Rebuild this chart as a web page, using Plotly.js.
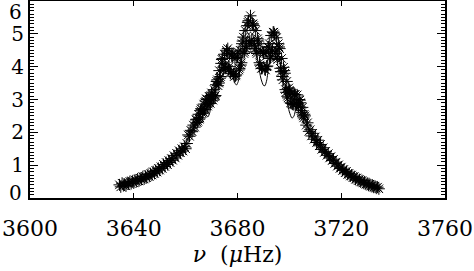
<!DOCTYPE html>
<html>
<head>
<meta charset="utf-8">
<script src="https://cdn.plot.ly/plotly-3.0.1.min.js"></script>
<style>
  body { margin: 0; background: #fff; }
  #plot { width: 474px; height: 271px; }
</style>
</head>
<body>
<div id="plot"></div>
<script>
// observed power spectrum (crosses)
const freq = [
  3634.5, 3635.0, 3635.5, 3636.0, 3636.5, 3637.0, 3637.5, 3638.0, 3638.5, 3639.0,
  3639.5, 3640.0, 3640.5, 3641.0, 3641.5, 3642.0, 3642.5, 3643.0, 3643.5, 3644.0,
  3644.5, 3645.0, 3645.5, 3646.0, 3646.5, 3647.0, 3647.5, 3648.0, 3648.5, 3649.0,
  3649.5, 3650.0, 3650.5, 3651.0, 3651.5, 3652.0, 3652.5, 3653.0, 3653.5, 3654.0,
  3654.5, 3655.0, 3655.5, 3656.0, 3656.5, 3657.0, 3657.5, 3658.0, 3658.5, 3659.0,
  3659.5, 3660.0, 3660.5, 3661.0, 3661.5, 3662.0, 3662.5, 3663.0, 3663.5, 3664.0,
  3664.5, 3665.0, 3665.5, 3666.0, 3666.5, 3667.0, 3667.5, 3668.0, 3668.5, 3669.0,
  3669.5, 3670.0, 3670.5, 3671.0, 3671.5, 3672.0, 3672.5, 3673.0, 3673.5, 3674.0,
  3674.5, 3675.0, 3675.5, 3676.0, 3676.5, 3677.0, 3677.5, 3678.0, 3678.5, 3679.0,
  3679.5, 3680.0, 3680.5, 3681.0, 3681.5, 3682.0, 3682.5, 3683.0, 3683.5, 3684.0,
  3684.5, 3685.0, 3685.5, 3686.0, 3686.5, 3687.0, 3687.5, 3688.0, 3688.5, 3689.0,
  3689.5, 3690.0, 3690.5, 3691.0, 3691.5, 3692.0, 3692.5, 3693.0, 3693.5, 3694.0,
  3694.5, 3695.0, 3695.5, 3696.0, 3696.5, 3697.0, 3697.5, 3698.0, 3698.5, 3699.0,
  3699.5, 3700.0, 3700.5, 3701.0, 3701.5, 3702.0, 3702.5, 3703.0, 3703.5, 3704.0,
  3704.5, 3705.0, 3705.5, 3706.0, 3706.5, 3707.0, 3707.5, 3708.0, 3708.5, 3709.0,
  3709.5, 3710.0, 3710.5, 3711.0, 3711.5, 3712.0, 3712.5, 3713.0, 3713.5, 3714.0,
  3714.5, 3715.0, 3715.5, 3716.0, 3716.5, 3717.0, 3717.5, 3718.0, 3718.5, 3719.0,
  3719.5, 3720.0, 3720.5, 3721.0, 3721.5, 3722.0, 3722.5, 3723.0, 3723.5, 3724.0,
  3724.5, 3725.0, 3725.5, 3726.0, 3726.5, 3727.0, 3727.5, 3728.0, 3728.5, 3729.0,
  3729.5, 3730.0, 3730.5, 3731.0, 3731.5, 3732.0, 3732.5, 3733.0, 3733.5, 3734.0,
  3734.5
];
const power = [
  0.40, 0.34, 0.45, 0.38, 0.42, 0.37, 0.47, 0.43, 0.50, 0.44,
  0.51, 0.46, 0.55, 0.50, 0.58, 0.52, 0.60, 0.57, 0.65, 0.58,
  0.66, 0.62, 0.72, 0.66, 0.74, 0.70, 0.80, 0.75, 0.84, 0.79,
  0.90, 0.85, 0.95, 0.90, 1.02, 0.96, 1.08, 1.02, 1.14, 1.08,
  1.20, 1.15, 1.29, 1.22, 1.36, 1.30, 1.44, 1.38, 1.50, 1.43,
  1.56, 1.50, 1.66, 1.92, 1.88, 2.06, 2.02, 2.22, 2.16, 2.38,
  2.30, 2.55, 2.44, 2.72, 2.58, 2.86, 2.70, 3.02, 2.80, 3.10,
  2.88, 3.20, 2.98, 3.30, 3.12, 3.55, 3.42, 3.88, 3.70, 4.22,
  3.90, 4.38, 3.95, 4.45, 3.92, 4.40, 3.85, 4.30, 3.78, 4.25,
  3.75, 4.32, 3.90, 4.50, 4.12, 4.78, 4.40, 5.10, 4.62, 5.35,
  4.75, 5.55, 4.80, 5.30, 4.65, 5.10, 4.40, 4.78, 4.12, 4.50,
  3.95, 4.40, 3.92, 4.45, 4.02, 4.60, 4.25, 4.95, 4.50, 5.05,
  4.45, 4.88, 4.22, 4.60, 3.95, 4.25, 3.60, 3.88, 3.30, 3.55,
  3.05, 3.28, 2.90, 3.18, 2.85, 3.15, 2.88, 3.14, 2.80, 2.98,
  2.66, 2.76, 2.44, 2.50, 2.22, 2.29, 2.03, 2.08, 1.89, 1.97,
  1.79, 1.86, 1.69, 1.76, 1.59, 1.63, 1.48, 1.53, 1.39, 1.42,
  1.30, 1.35, 1.22, 1.26, 1.14, 1.18, 1.05, 1.09, 0.97, 1.01,
  0.90, 0.94, 0.84, 0.87, 0.77, 0.81, 0.72, 0.75, 0.67, 0.70,
  0.62, 0.65, 0.57, 0.61, 0.53, 0.56, 0.49, 0.53, 0.46, 0.49,
  0.42, 0.45, 0.39, 0.42, 0.36, 0.39, 0.33, 0.36, 0.30, 0.33,
  0.28
];

// extra in-between bins near the peak, where the spectrum is densest
const freqMid = [
  3664.25, 3664.75, 3665.25, 3665.75, 3666.25, 3666.75, 3667.25, 3667.75, 3668.25, 3668.75,
  3669.25, 3669.75, 3670.25, 3670.75, 3671.25, 3671.75, 3672.25, 3672.75, 3673.25, 3673.75,
  3674.25, 3674.75, 3675.25, 3675.75, 3676.25, 3676.75, 3677.25, 3677.75, 3678.25, 3678.75,
  3679.25, 3679.75, 3680.25, 3680.75, 3681.25, 3681.75, 3682.25, 3682.75, 3683.25, 3683.75,
  3684.25, 3684.75, 3685.25, 3685.75, 3686.25, 3686.75, 3687.25, 3687.75, 3688.25, 3688.75,
  3689.25, 3689.75, 3690.25, 3690.75, 3691.25, 3691.75, 3692.25, 3692.75, 3693.25, 3693.75,
  3694.25, 3694.75, 3695.25, 3695.75, 3696.25, 3696.75, 3697.25, 3697.75, 3698.25, 3698.75,
  3699.25, 3699.75, 3700.25, 3700.75, 3701.25, 3701.75, 3702.25, 3702.75, 3703.25, 3703.75,
  3704.25, 3704.75, 3705.25, 3705.75
];
const powerMid = [
  2.40, 2.34, 2.40, 2.66, 2.70, 2.62, 2.68, 2.95, 3.00, 2.86,
  2.90, 3.12, 3.15, 3.05, 3.10, 3.45, 3.60, 3.50, 3.65, 4.10,
  4.25, 3.98, 4.05, 4.50, 4.55, 4.00, 3.80, 4.35, 4.40, 3.70,
  3.72, 4.28, 4.45, 3.95, 4.05, 4.70, 4.90, 4.45, 4.55, 5.25,
  5.40, 4.78, 4.70, 5.30, 5.25, 4.55, 4.45, 4.85, 4.70, 4.05,
  3.95, 4.45, 4.42, 3.90, 4.00, 4.60, 4.70, 4.30, 4.45, 5.05,
  5.00, 4.40, 4.30, 4.70, 4.55, 3.85, 3.70, 3.98, 3.80, 3.22,
  3.10, 3.35, 3.25, 2.88, 2.86, 3.16, 3.15, 2.86, 2.84, 3.00,
  2.90, 2.60, 2.50, 2.55
];

// fitted model profile (solid line)
const fitFreq = [
  3634, 3638, 3642, 3646, 3650, 3654, 3657, 3660, 3662, 3664,
  3666, 3667, 3668, 3668.6, 3669.3, 3670, 3671, 3672, 3673, 3674,
  3675, 3676, 3677, 3678, 3679, 3679.6, 3680.3, 3681, 3682, 3683,
  3684, 3685, 3686, 3687, 3688, 3689, 3690, 3690.6, 3691.3, 3692,
  3693, 3694, 3695, 3696, 3697, 3698, 3699, 3700, 3701, 3701.8,
  3702.6, 3703.5, 3704.5, 3706, 3708, 3710, 3711, 3712, 3713, 3714.5,
  3717, 3720, 3724, 3728, 3732, 3735
];
const fitPower = [
  0.33, 0.42, 0.55, 0.70, 0.90, 1.15, 1.38, 1.68, 1.95, 2.25,
  2.55, 2.65, 2.52, 2.47, 2.60, 2.95, 3.25, 3.50, 3.75, 3.98,
  4.12, 4.15, 4.05, 3.75, 3.50, 3.44, 3.55, 3.90, 4.35, 4.70,
  4.95, 5.05, 4.95, 4.60, 4.10, 3.65, 3.43, 3.42, 3.60, 4.00,
  4.50, 4.75, 4.65, 4.30, 3.85, 3.40, 3.00, 2.62, 2.43, 2.50,
  2.75, 2.85, 2.70, 2.40, 2.00, 1.70, 1.52, 1.45, 1.45, 1.35,
  1.10, 0.88, 0.64, 0.47, 0.36, 0.30
];

const xTicks = [3600, 3640, 3680, 3720, 3760];
const yTicks = [0, 1, 2, 3, 4, 5, 6];
const yTickText = ['', '1', '2', '3', '4', '5', ''];

const font = { family: '"DejaVu Serif", serif', size: 22, color: '#000' };
const yFont = { family: '"DejaVu Serif", serif', size: 20, color: '#000' };
const crossMarker = { symbol: 'asterisk-open', size: 10, color: '#000', line: { color: '#000', width: 1 } };

const dataTrace = {
    x: freq,
    y: power,
    type: 'scatter',
    mode: 'markers',
    marker: crossMarker,
    hoverinfo: 'skip'
};

const midTrace = {
    x: freqMid,
    y: powerMid,
    type: 'scatter',
    mode: 'markers',
    marker: crossMarker,
    hoverinfo: 'skip'
};

const fitTrace = {
    x: fitFreq,
    y: fitPower,
    type: 'scatter',
    mode: 'lines',
    line: { color: '#000', width: 1, shape: 'spline', smoothing: 0.6 },
    hoverinfo: 'skip'
};

const layout = {
    width: 474,
    height: 271,
    margin: { l: 30, r: 29, t: 1, b: 73 },
    paper_bgcolor: '#fff',
    plot_bgcolor: '#fff',
    showlegend: false,
    font: font,
    xaxis: {
        range: [3600, 3760],
        tickvals: xTicks,
        ticks: 'inside',
        ticklen: 5,
        tickwidth: 1,
        tickcolor: '#000',
        showline: true,
        linecolor: '#000',
        linewidth: 2,
        mirror: 'allticks',
        showgrid: false,
        zeroline: false,
        ticklabelstandoff: 10,
        tickfont: font,
        title: { text: '<i>ν</i>  (<i>μ</i>Hz)', font: font, standoff: 6 }
    },
    yaxis: {
        range: [0, 6],
        tickvals: yTicks,
        ticktext: yTickText,
        ticks: 'inside',
        ticklen: 8,
        tickwidth: 1,
        tickcolor: '#000',
        minor: { dtick: 0.1, ticks: 'inside', ticklen: 4, tickcolor: '#000', tickwidth: 1, showgrid: false },
        showline: true,
        linecolor: '#000',
        linewidth: 2,
        mirror: 'allticks',
        showgrid: false,
        zeroline: false,
        tickfont: yFont
    },
    annotations: [
        { text: '6', xref: 'paper', yref: 'paper', x: 0, y: 1, xanchor: 'right', yanchor: 'top', xshift: -7, yshift: 2, borderpad: 0, showarrow: false, font: yFont },
        { text: '0', xref: 'paper', yref: 'paper', x: 0, y: 0, xanchor: 'right', yanchor: 'middle', xshift: -7, yshift: 5, borderpad: 0, showarrow: false, font: yFont }
    ]
};

Plotly.newPlot('plot', [dataTrace, midTrace, fitTrace], layout, { staticPlot: true });
</script>
</body>
</html>
